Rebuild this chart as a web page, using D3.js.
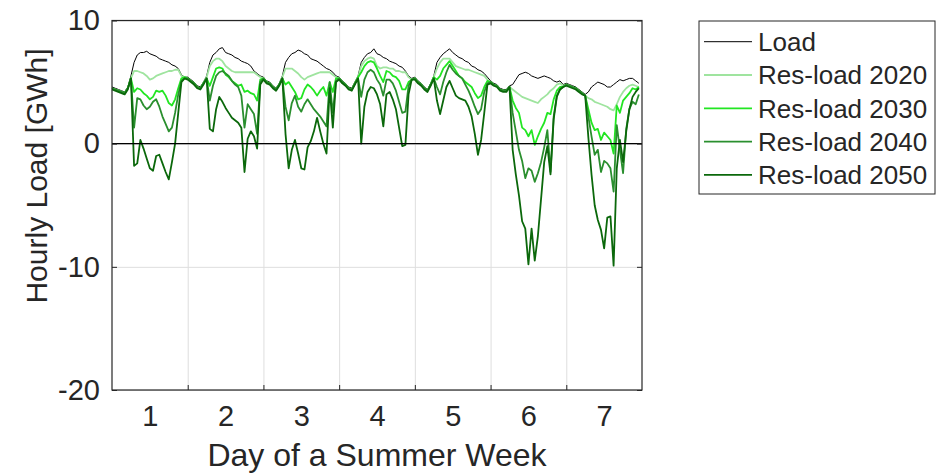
<!DOCTYPE html>
<meta charset="utf-8">
<style>
body { margin: 0; background: #fff; }
text { font-family: "Liberation Sans", Arial, sans-serif; fill: #262626; }
.axis path { display: none; }
.axis line { stroke: #262626; }
.grid line { stroke: #dedede; }
.grid path { display: none; }
.line { fill: none; stroke-linejoin: round; }
</style>
<svg width="940" height="475"></svg>
<script src="https://d3js.org/d3.v7.min.js"></script>
<script>

// hourly values, 24 per day, day 1 .. day 7
var load = [
  4.6,4.5,4.4,4.3,4.2,4.6, 5.5,6.6,7.2,7.4,7.4,7.5, 7.3,7.2,7.1,6.9,6.8,6.7, 6.6,6.4,6.3,6.1,5.6,5.4,
  5.4,5.2,5.0,4.7,4.6,5.0, 5.5,6.6,7.2,7.4,7.7,7.8, 7.4,7.3,7.2,7.0,6.9,6.7, 6.6,6.5,6.3,5.9,5.7,5.5,
  5.4,5.1,5.0,4.7,4.5,4.9, 5.5,6.6,7.0,7.3,7.4,7.6, 7.5,7.3,7.2,6.9,6.8,6.7, 6.5,6.3,6.1,6.0,5.8,5.5,
  5.4,5.1,4.9,4.6,4.5,5.0, 5.5,6.6,7.0,7.3,7.4,7.7, 7.3,7.2,7.0,6.9,6.7,6.6, 6.5,6.3,6.2,5.9,5.5,5.3,
  5.4,5.1,4.9,4.6,4.4,4.9, 5.5,6.6,7.0,7.3,7.5,7.7, 7.4,7.2,7.0,6.9,6.7,6.6, 6.3,6.2,6.0,5.9,5.7,5.4,
  5.1,4.9,4.8,4.5,4.4,4.4, 4.7,4.8,5.2,5.6,5.7,5.8, 5.7,5.5,5.4,5.3,5.4,5.5, 5.4,5.3,5.1,5.0,5.1,4.8,
  4.9,4.8,4.7,4.6,4.4,4.2, 4.0,4.2,4.6,4.8,5.0,4.9, 4.8,4.6,4.6,4.8,5.0,5.2, 5.1,5.2,5.3,5.3,5.1,4.9
];

var res2020 = [
  4.5,4.4,4.3,4.2,4.1,4.5, 5.3,5.9,5.9,5.8,5.7,5.5, 5.2,5.3,5.5,5.6,5.7,5.8, 5.9,5.9,6.0,6.0,5.5,5.4,
  5.3,5.1,4.9,4.6,4.5,4.9, 5.4,6.3,6.7,6.9,6.9,6.7, 6.3,6.1,5.9,5.8,5.8,5.8, 5.8,5.8,5.8,5.8,5.6,5.4,
  5.3,5.0,4.9,4.6,4.4,4.8, 5.4,6.1,6.1,6.1,5.9,5.7, 5.4,5.2,5.4,5.5,5.6,5.7, 5.8,5.8,5.8,5.8,5.6,5.4,
  5.3,5.0,4.8,4.5,4.4,4.9, 5.4,6.3,6.7,6.9,7.0,6.9, 6.3,6.1,6.2,6.2,6.1,6.1, 5.9,5.9,5.8,5.8,5.4,5.2,
  5.3,5.0,4.8,4.5,4.3,4.8, 5.4,6.1,6.6,6.9,6.9,6.9, 6.6,6.3,6.2,6.1,6.0,6.0, 5.9,5.8,5.7,5.6,5.5,5.2,
  5.0,4.8,4.7,4.4,4.3,4.3, 4.6,4.4,4.2,4.0,3.8,3.7, 3.6,3.5,3.4,3.3,3.6,3.8, 4.0,4.3,4.5,4.8,4.9,4.7,
  4.8,4.7,4.6,4.5,4.3,4.1, 3.9,3.7,3.6,3.4,3.3,3.2, 3.1,3.0,2.8,2.7,3.2,3.8, 4.2,4.5,4.7,4.8,4.7,4.6
];

var res2030 = [
  4.5,4.4,4.3,4.2,4.1,4.5, 5.3,4.2,4.5,4.4,4.1,3.9, 3.6,3.8,4.3,4.2,4.3,3.9, 3.3,3.1,3.6,4.5,5.3,5.4,
  5.3,5.1,4.9,4.6,4.5,4.9, 5.3,4.7,5.4,6.1,6.2,6.1, 5.6,5.4,5.1,4.9,4.7,4.8, 4.2,4.3,4.1,4.0,3.5,5.2,
  5.3,5.0,4.9,4.6,4.4,4.8, 5.3,4.8,5.0,4.6,4.2,3.6, 3.7,4.4,4.8,4.6,4.3,3.9, 4.3,4.6,3.9,5.0,4.2,5.3,
  5.3,5.0,4.8,4.5,4.4,4.9, 5.4,5.8,6.3,6.6,6.7,6.6, 6.1,5.5,5.0,5.9,5.8,5.5, 5.4,5.1,4.4,4.4,5.0,5.2,
  5.3,5.0,4.8,4.5,4.3,4.8, 5.4,5.2,5.5,6.1,6.4,6.7, 6.3,5.9,5.5,5.3,5.0,4.8, 4.6,4.1,3.7,3.9,4.6,5.1,
  5.0,4.8,4.7,4.4,4.3,4.3, 4.6,3.5,2.9,2.5,1.3,1.1, 0.6,1.1,-0.1,0.6,1.2,1.7, 2.5,2.4,3.6,4.3,4.6,4.6,
  4.8,4.7,4.6,4.5,4.3,4.1, 3.9,2.8,1.7,1.1,1.2,0.3, 0.9,0.6,0.3,-0.8,3.1,2.5, 3.5,3.8,4.1,4.5,4.4,4.6
];

var res2040 = [
  4.5,4.4,4.3,4.2,4.1,4.5, 5.3,1.3,3.7,3.6,3.1,2.8, 3.0,3.4,3.6,3.0,2.2,1.6, 1.0,1.3,2.5,4.0,5.1,5.3,
  5.3,5.1,4.9,4.6,4.5,4.9, 5.3,3.5,4.7,5.5,5.8,5.9, 5.7,5.5,5.1,4.8,4.6,3.9, 1.3,3.2,2.8,2.4,0.8,5.0,
  5.3,5.0,4.9,4.6,4.4,4.8, 5.3,3.0,1.9,3.3,3.9,3.0, 2.6,3.2,3.6,3.2,2.8,2.5, 2.2,1.8,1.4,5.0,2.5,5.1,
  5.3,5.0,4.8,4.5,4.4,4.9, 5.3,3.8,5.2,5.8,6.0,5.8, 5.2,4.8,3.9,5.2,5.2,4.9, 4.3,3.4,2.5,2.6,4.7,5.2,
  5.3,5.0,4.8,4.5,4.3,4.8, 5.3,4.6,4.0,5.0,5.8,6.4, 6.0,5.7,5.5,5.3,4.8,4.3, 3.7,3.0,2.4,2.8,4.2,4.9,
  5.0,4.8,4.7,4.4,4.3,4.3, 4.6,2.5,1.0,-0.5,-1.4,-2.8, -2.0,-2.2,-3.1,-2.4,-1.5,-0.3, 1.1,-2.3,2.2,3.9,4.4,4.6,
  4.8,4.7,4.6,4.5,4.3,4.1, 3.9,2.2,0.6,-0.9,-0.5,-2.3, -1.4,-1.6,-2.0,-3.9,1.5,-0.5, -2.4,1.2,2.8,3.4,3.2,4.0
];

var res2050 = [
  4.4,4.3,4.2,4.1,4.0,4.4, 5.3,-1.8,-1.6,0.3,-0.4,-1.2, -2.0,-2.2,-1.0,-0.9,-1.6,-2.3, -2.9,-1.5,0.0,2.5,5.0,5.3,
  5.2,5.0,4.8,4.5,4.4,4.8, 5.3,1.2,1.0,2.8,3.8,3.4, 2.9,2.5,2.1,1.9,1.7,1.3, -2.3,0.4,1.0,0.6,-0.4,4.8,
  5.2,4.9,4.8,4.5,4.3,4.7, 5.3,0.8,-2.0,-0.5,0.3,-0.8, -2.0,-2.1,-0.3,0.2,1.0,2.1, 1.0,0.0,-0.8,4.5,1.3,5.0,
  5.2,4.9,4.7,4.4,4.3,4.8, 5.3,0.0,3.0,4.2,4.6,4.5, 4.0,3.2,1.4,4.0,4.2,3.6, 2.8,1.3,-0.2,-0.1,4.0,5.2,
  5.2,4.9,4.7,4.4,4.2,4.7, 5.3,3.5,2.4,3.5,4.6,5.1, 4.5,3.9,3.7,3.6,3.5,3.0, 2.2,0.8,-0.9,0.3,2.5,4.8,
  4.9,4.7,4.6,4.3,4.2,4.2, 4.6,-0.5,-2.5,-4.2,-6.3,-6.9, -9.8,-6.9,-9.5,-7.5,-4.5,-1.5, -0.2,-2.5,2.0,3.8,4.4,4.6,
  4.7,4.6,4.5,4.4,4.2,4.0, 3.9,0.5,-2.5,-5.0,-6.2,-7.0, -8.5,-6.0,-5.9,-9.9,-2.0,0.3, -1.5,1.0,2.8,3.8,4.2,4.5
];

var seriesNames = ["Load", "Res-load 2020", "Res-load 2030", "Res-load 2040", "Res-load 2050"];
var days = [1, 2, 3, 4, 5, 6, 7];
var dayBounds = [1.5, 2.5, 3.5, 4.5, 5.5, 6.5];
var yTicks = [-20, -10, 0, 10];

var colors = ["#000000", "#9fe49f", "#22e622", "#2a8f2e", "#0b680b"],
    widths = [1, 1.8, 1.8, 1.8, 1.8];

var svg = d3.select("svg"),
    margin = {top: 20.5, right: 298, bottom: 85, left: 112},
    width = +svg.attr("width") - margin.left - margin.right,
    height = +svg.attr("height") - margin.top - margin.bottom;

var x = d3.scaleLinear().domain([0.5, 7.5]).range([0, width]),
    y = d3.scaleLinear().domain([-20, 10]).range([height, 0]);

var g = svg.append("g")
    .attr("transform", "translate(" + margin.left + "," + margin.top + ")");

// grid
g.append("g")
    .attr("class", "grid")
    .attr("transform", "translate(0," + height + ")")
    .call(d3.axisBottom(x).tickValues(dayBounds).tickSize(-height).tickFormat(""));
g.append("g")
    .attr("class", "grid")
    .call(d3.axisLeft(y).tickValues(yTicks).tickSize(-width).tickFormat(""));

// series
var data = [load, res2020, res2030, res2040, res2050];
var line = d3.line()
    .x(function(d, i) { return x(0.5 + i / 24); })
    .y(function(d) { return y(d); });

g.selectAll(".line")
    .data(data)
  .enter().append("path")
    .attr("class", "line")
    .attr("stroke", function(d, i) { return colors[i]; })
    .attr("stroke-width", function(d, i) { return widths[i]; })
    .attr("d", line);

// zero line
g.append("line")
    .attr("x1", 0).attr("x2", width)
    .attr("y1", y(0)).attr("y2", y(0))
    .attr("stroke", "#000").attr("stroke-width", 1.3);

// axes, ticks inward like matlab
var plain = function(d) { return String(d); };

g.append("g")
    .attr("class", "axis")
    .attr("transform", "translate(0," + height + ")")
    .call(d3.axisBottom(x).tickValues(dayBounds).tickSize(-5).tickFormat(""));
g.append("g")
    .attr("class", "axis")
    .call(d3.axisTop(x).tickValues(dayBounds).tickSize(-5).tickFormat(""));
g.append("g")
    .attr("class", "axis")
    .attr("transform", "translate(0," + height + ")")
    .call(d3.axisBottom(x).tickValues(days).tickSize(0).tickPadding(15).tickFormat(plain))
    .selectAll("text").style("font-size", "29px");
g.append("g")
    .attr("class", "axis")
    .call(d3.axisLeft(y).tickValues(yTicks).tickSize(-5).tickPadding(12).tickFormat(plain))
    .selectAll("text").style("font-size", "29px");
g.append("g")
    .attr("class", "axis")
    .attr("transform", "translate(" + width + ",0)")
    .call(d3.axisRight(y).tickValues(yTicks).tickSize(-5).tickFormat(""));

g.append("rect")
    .attr("width", width).attr("height", height)
    .attr("fill", "none").attr("stroke", "#262626").attr("stroke-width", 1.2);

// axis labels
svg.append("text")
    .attr("x", margin.left + width / 2)
    .attr("y", 466)
    .attr("text-anchor", "middle")
    .style("font-size", "32px")
    .text("Day of a Summer Week");

svg.append("text")
    .attr("transform", "translate(47,176) rotate(-90)")
    .attr("text-anchor", "middle")
    .style("font-size", "30px")
    .text("Hourly Load [GWh]");

// legend
var legend = svg.append("g").attr("transform", "translate(699,21)");
legend.append("rect")
    .attr("width", 236).attr("height", 173)
    .attr("fill", "#fff").attr("stroke", "#262626").attr("stroke-width", 1);

var item = legend.selectAll(".item")
    .data(seriesNames)
  .enter().append("g")
    .attr("transform", function(d, i) { return "translate(0," + (20.7 + i * 33.3) + ")"; });

item.append("line")
    .attr("x1", 5).attr("x2", 53)
    .attr("stroke", function(d, i) { return colors[i]; })
    .attr("stroke-width", function(d, i) { return widths[i]; });

item.append("text")
    .attr("x", 59)
    .attr("dy", "0.36em")
    .style("font-size", "26px")
    .text(function(d) { return d; });

</script>
